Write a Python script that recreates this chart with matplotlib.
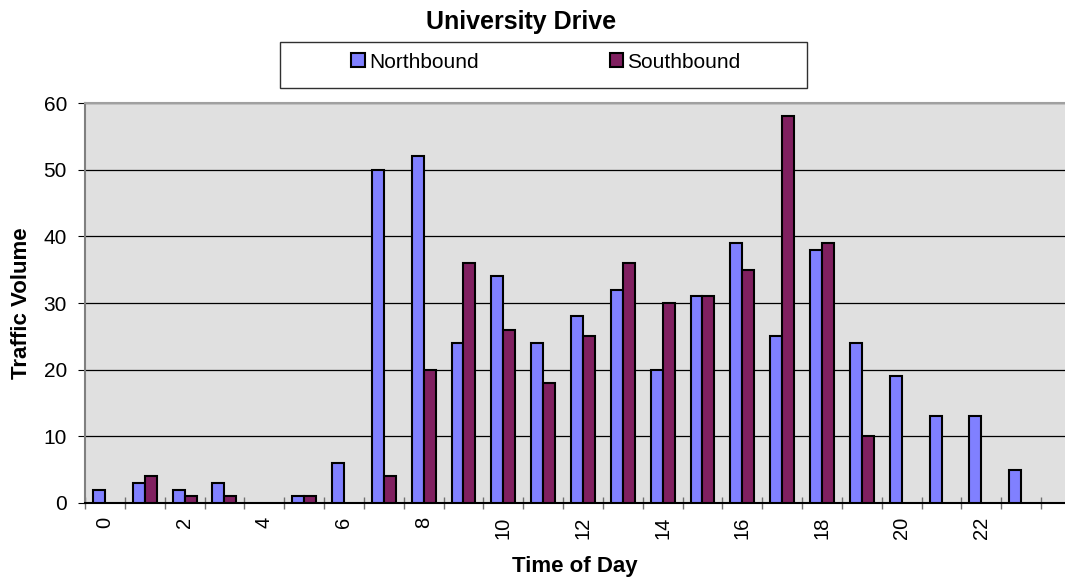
import numpy as np
import matplotlib
matplotlib.use("Agg")
import matplotlib.pyplot as plt
from matplotlib.patches import Rectangle

plt.rcParams['font.family'] = ['Liberation Sans', 'DejaVu Sans']

# hourly traffic counts
hours = list(range(24))
northbound = [2, 3, 2, 3, 0, 1, 6, 50, 52, 24, 34, 24, 28, 32, 20, 31, 39, 25, 38, 24, 19, 13, 13, 5]
southbound = [0, 4, 1, 1, 0, 1, 0, 4, 20, 36, 26, 18, 25, 36, 30, 31, 35, 58, 39, 10, 0, 0, 0, 0]
tick_hours = list(range(0, 24, 2))

fig = plt.figure(figsize=(10.65, 5.78), dpi=100)
ax = fig.add_axes([85 / 1065, 75 / 578, 980 / 1065, 400 / 578])
ax.set_facecolor('#E0E0E0')

w = 0.3
# zero counts are not drawn in the original
xn = [h for h, v in zip(hours, northbound) if v > 0]
vn = [v for v in northbound if v > 0]
xs = [h for h, v in zip(hours, southbound) if v > 0]
vs = [v for v in southbound if v > 0]
ax.bar(np.array(xn) - w / 2, vn, w, color='#8080FF', edgecolor='black', linewidth=1.5,
       label='Northbound', zorder=3)
ax.bar(np.array(xs) + w / 2, vs, w, color='#802060', edgecolor='black', linewidth=1.5,
       label='Southbound', zorder=3)

ax.set_ylim(0, 60)
ax.set_yticks(range(0, 61, 10))
ax.yaxis.grid(True, color='black', linewidth=0.9, zorder=1)
ax.set_xlim(-0.5, 24.1)

ax.set_xticks(tick_hours)
ax.set_xticklabels([str(h) for h in tick_hours], rotation=90)
ax.set_xticks(np.arange(-0.5, 24, 1), minor=True)
ax.tick_params(axis='x', which='major', length=0, labelsize=14.5, pad=10)
ax.tick_params(axis='x', which='minor', length=8, direction='inout', color='#707070', width=1)
ax.tick_params(axis='y', length=5, labelsize=15, color='black', pad=8)

ax.spines['right'].set_visible(False)
ax.spines['top'].set_color('#A0A0A0')
ax.spines['top'].set_linewidth(1.5)
ax.spines['left'].set_color('#808080')
ax.spines['left'].set_linewidth(1.5)
ax.spines['bottom'].set_color('black')
ax.spines['bottom'].set_linewidth(1.5)

ax.set_ylabel('Traffic Volume', fontsize=16, fontweight='bold', labelpad=8)
ax.set_xlabel('Time of Day', fontsize=16, fontweight='bold', labelpad=12)

fig.text(521 / 1065, 1 - 22 / 578, 'University Drive', ha='center', va='center',
         fontsize=18, fontweight='bold')

# legend box
fig.patches.append(Rectangle((280 / 1065, 1 - 88 / 578), 527 / 1065, 46 / 578,
                             transform=fig.transFigure, fill=True, facecolor='white',
                             edgecolor='#303030', linewidth=1.0))
leg = fig.legend(loc='center', bbox_to_anchor=(546 / 1065, 1 - 62 / 578),
                 ncol=2, frameon=False, fontsize=15,
                 handlelength=0.65, handleheight=0.65, handletextpad=0.2,
                 columnspacing=6.3)

fig.savefig('out.png', dpi=100)
